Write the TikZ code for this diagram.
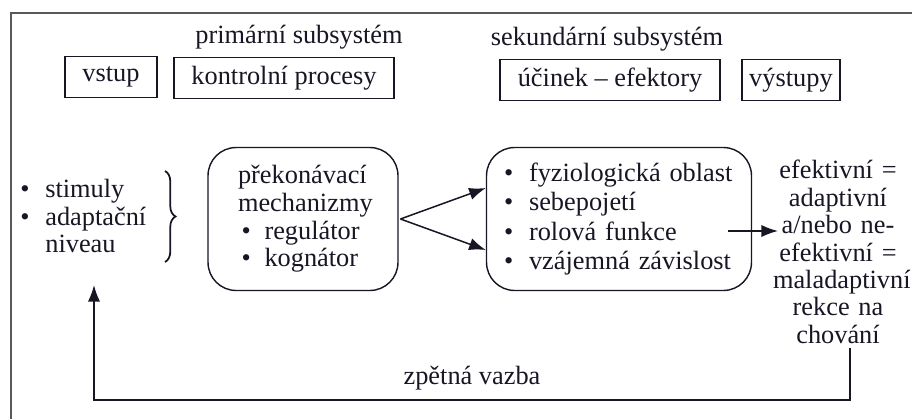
\documentclass[tikz,border=0pt]{standalone}
\usepackage{fontspec}
\setmainfont{Liberation Serif}
\usetikzlibrary{positioning,arrows.meta,decorations.pathreplacing}
\definecolor{ink}{RGB}{22,22,36}
\definecolor{framegray}{RGB}{88,88,88}
\newcommand{\bod}[1]{\makebox[#1][l]{\textbullet}}

\begin{document}
\begin{tikzpicture}
[x=0.02cm, y=-0.02cm, node distance=1cm, color=ink, font=\fontsize{15}{16.8}\selectfont]
\tikzstyle{tab}=[draw, line width=0.8pt, inner sep=0pt, minimum height=0.82cm]
\tikzstyle{area}=[draw, line width=0.8pt, rounded corners=16pt, align=left, inner sep=0pt, minimum height=2.86cm]
\tikzstyle{conn}=[line width=0.85pt, -{Latex[length=9.5pt, width=7pt]}]
\useasboundingbox (0,0) rectangle (912,419);
\draw [line width=1.7pt, framegray] (11,419) -- (11,13) -- (912,13);

% subsystemy
\node (prim)	at (299,37)	{primární subsystém};
\node (sek)	at (607,39)	{sekundární subsystém};

\node[tab, minimum width=1.84cm]	(vstup)		at (111,77)	{vstup};
\node[tab, minimum width=4.4cm]	(kontrola)	at (284,78)	{kontrolní procesy};
\node[tab, minimum width=4.4cm]	(ucinek)	at (610,80)	{účinek -- efektory};
\node[tab, minimum width=1.96cm]	(vystupy)	[right of=ucinek, node distance=3.62cm]	{výstupy};

% vstupy a mechanizmy
\node[align=left, anchor=west, text width=2.8cm, inner sep=0pt, font=\fontsize{15}{15.9}\selectfont]	(podnety)	at (20,216)
	{\bod{0.5cm}stimuly\\ \bod{0.5cm}adaptační\\ \hspace*{0.5cm}niveau};
\draw [line width=1pt, decorate, decoration={brace, amplitude=6pt}] (165,171) -- (165,262);

\node[area, minimum width=3.8cm, text width=2.6cm, font=\fontsize{15}{15.8}\selectfont]	(mech)	at (303,219)
	{překonávací\\ mechanizmy\\ \hspace*{2pt}\bod{0.46cm}regulátor\\ \hspace*{2pt}\bod{0.46cm}kognátor};
\node[area, minimum width=5.3cm, text width=4.6cm, font=\fontsize{15}{16.8}\selectfont]	(oblasti)	at (619,219)
	{\bod{0.5cm}fyziologická oblast\\ \bod{0.5cm}sebepojetí\\ \bod{0.5cm}rolová funkce\\ \bod{0.5cm}vzájemná závislost};

\node[align=center, text width=2.6cm, inner sep=0pt, font=\fontsize{15}{15.6}\selectfont]	(vysledek)	at (838,252)
	{efektivní =\\ adaptivní\\ a/nebo ne-\\ efektivní =\\ maladaptivní\\ rekce na\\ chování};

\coordinate (rozdel)	at ([xshift=1pt]mech.east);
\coordinate (ven)	at (728,231);
\coordinate (cil)	at (778,231);
\coordinate (zacatek)	at (850,348);
\coordinate (roh)	at (94,400);
\coordinate (zpet)	at (94,285);

\draw [conn] (rozdel) -- ([yshift=0.62cm]oblasti.west);
\draw [conn] (rozdel) -- ([yshift=-0.62cm]oblasti.west);
\draw [conn] (ven) -- (cil);
\draw [conn] (zacatek) |- (roh) -- (zpet);
\node (zpetna)	at (472,378)	{zpětná vazba};
\end{tikzpicture}
\end{document}
